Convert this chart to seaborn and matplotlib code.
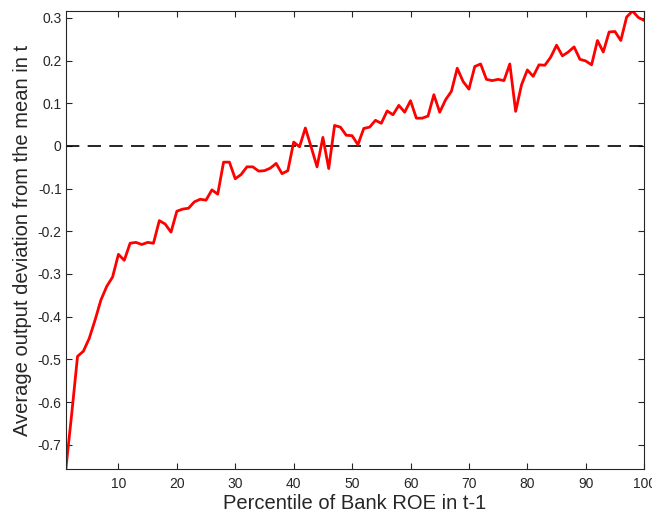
import numpy as np
import pandas as pd
import matplotlib
matplotlib.use("Agg")
import matplotlib.pyplot as plt
import seaborn as sns

percentile = list(range(1, 101))
deviation = [
    -0.757, -0.628, -0.493, -0.481, -0.451, -0.408, -0.361, -0.329, -0.307, -0.254,
    -0.268, -0.228, -0.226, -0.231, -0.226, -0.228, -0.175, -0.183, -0.202, -0.153,
    -0.148, -0.146, -0.131, -0.125, -0.127, -0.103, -0.113, -0.038, -0.038, -0.077,
    -0.067, -0.049, -0.049, -0.059, -0.058, -0.052, -0.041, -0.065, -0.058, 0.009,
    -0.002, 0.042, -0.003, -0.049, 0.020, -0.053, 0.048, 0.044, 0.025, 0.024,
    0.003, 0.041, 0.044, 0.060, 0.053, 0.082, 0.073, 0.095, 0.079, 0.106,
    0.065, 0.065, 0.070, 0.120, 0.079, 0.108, 0.128, 0.182, 0.151, 0.133,
    0.186, 0.192, 0.156, 0.153, 0.156, 0.153, 0.192, 0.081, 0.143, 0.178,
    0.163, 0.190, 0.189, 0.208, 0.236, 0.211, 0.220, 0.232, 0.203, 0.199,
    0.190, 0.247, 0.220, 0.267, 0.268, 0.247, 0.302, 0.316, 0.301, 0.294,
]
x_ticks = [10, 20, 30, 40, 50, 60, 70, 80, 90, 100]
y_ticks = [-0.7, -0.6, -0.5, -0.4, -0.3, -0.2, -0.1, 0, 0.1, 0.2, 0.3]
y_tick_labels = ["-0.7", "-0.6", "-0.5", "-0.4", "-0.3", "-0.2", "-0.1", "0", "0.1", "0.2", "0.3"]
x_label = "Percentile of Bank ROE in t-1"
y_label = "Average output deviation from the mean in t"

df = pd.DataFrame({"percentile": percentile, "deviation": deviation})

sns.set_theme(style="white")
plt.rcParams["font.family"] = ["Liberation Sans", "DejaVu Sans"]
plt.rcParams["axes.unicode_minus"] = False

axis_color = "#262626"
fig = plt.figure(figsize=(6.52, 5.14), dpi=100)
ax = fig.add_axes([0.101, 0.0875, 0.887, 0.891])

ax.axhline(0, color="black", linewidth=1.2, linestyle=(0, (8, 5)), zorder=1)
sns.lineplot(data=df, x="percentile", y="deviation", color="#ff0000",
             linewidth=2.0, ax=ax, zorder=2)

ax.set_xlim(1, 100)
ax.set_ylim(min(deviation), max(deviation))
ax.set_xticks(x_ticks)
ax.set_xticklabels([str(t) for t in x_ticks])
ax.set_yticks(y_ticks)
ax.set_yticklabels(y_tick_labels)

ax.tick_params(direction="in", length=4, width=0.8, colors=axis_color,
               labelsize=10, top=True, right=True, bottom=True, left=True,
               labelcolor=axis_color)
ax.tick_params(axis="x", pad=6)
ax.tick_params(axis="y", pad=3)
for s in ax.spines.values():
    s.set_visible(True)
    s.set_color(axis_color)
    s.set_linewidth(0.8)

ax.set_xlabel(x_label, fontsize=14.5, color=axis_color, labelpad=2)
ax.set_ylabel(y_label, fontsize=14.5, color=axis_color, labelpad=4)

fig.savefig("out.png", dpi=100)
